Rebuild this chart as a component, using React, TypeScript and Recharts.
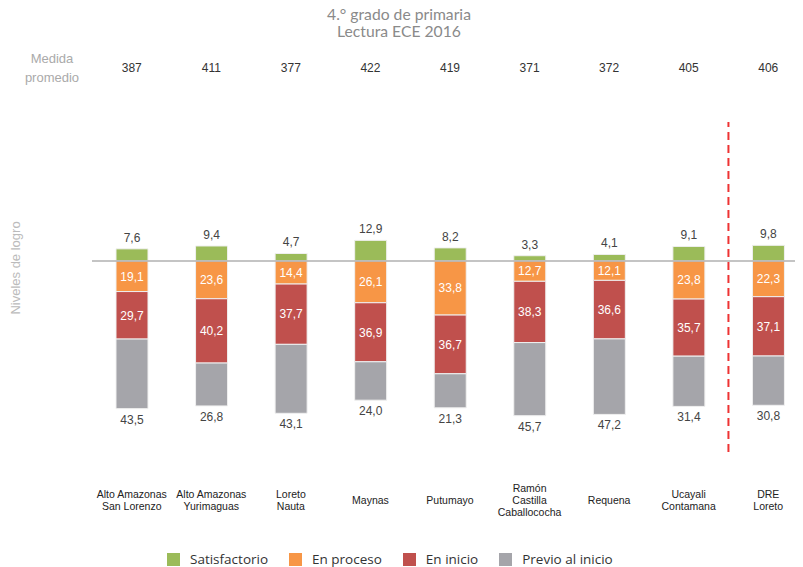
import React from "react";
import {
  BarChart,
  Bar,
  XAxis,
  YAxis,
  ReferenceLine,
  LabelList,
} from "recharts";

const regions = [
  "Alto Amazonas\nSan Lorenzo",
  "Alto Amazonas\nYurimaguas",
  "Loreto\nNauta",
  "Maynas",
  "Putumayo",
  "Ramón\nCastilla\nCaballococha",
  "Requena",
  "Ucayali\nContamana",
  "DRE\nLoreto",
];
const media = [387, 411, 377, 422, 419, 371, 372, 405, 406];
const satisfactorio = [7.6, 9.4, 4.7, 12.9, 8.2, 3.3, 4.1, 9.1, 9.8];
const enProceso = [19.1, 23.6, 14.4, 26.1, 33.8, 12.7, 12.1, 23.8, 22.3];
const enInicio = [29.7, 40.2, 37.7, 36.9, 36.7, 38.3, 36.6, 35.7, 37.1];
const previo = [43.5, 26.8, 43.1, 24.0, 21.3, 45.7, 47.2, 31.4, 30.8];

const series = [
  { key: "sat", name: "Satisfactorio", color: "#9bbb59" },
  { key: "proc", name: "En proceso", color: "#f79646" },
  { key: "ini", name: "En inicio", color: "#c0504d" },
  { key: "prev", name: "Previo al inicio", color: "#a5a5aa" },
];

// values below the line are stored negative so the stack goes down
const data = regions.map((region, i) => ({
  region,
  sat: satisfactorio[i],
  proc: -enProceso[i],
  ini: -enInicio[i],
  prev: -previo[i],
}));

const fmt = (v: any) => Math.abs(Number(v)).toFixed(1).replace(".", ",");

const TopLabel = (p: any) => {
  const top = Math.min(p.y, p.y + p.height);
  return (
    <text x={p.x + p.width / 2} y={top - 7} textAnchor="middle" fill="#444" fontSize={12}>
      {fmt(p.value)}
    </text>
  );
};

const BottomLabel = (p: any) => {
  const bottom = Math.max(p.y, p.y + p.height);
  return (
    <text x={p.x + p.width / 2} y={bottom + 15} textAnchor="middle" fill="#444" fontSize={12}>
      {fmt(p.value)}
    </text>
  );
};

const RegionTick = (p: any) => {
  const lines = String(p.payload.value).split("\n");
  const cy = p.y + 46;
  const start = cy - ((lines.length - 1) * 12) / 2;
  return (
    <text x={p.x} textAnchor="middle" fill="#222" fontSize={10.5}>
      {lines.map((l, i) => (
        <tspan key={i} x={p.x} y={start + i * 12} dy="0.35em">
          {l}
        </tspan>
      ))}
    </text>
  );
};

const MediaTick = (p: any) => (
  <text x={p.x} y={p.y - 52} dy="0.35em" textAnchor="middle" fill="#333" fontSize={12}>
    {media[p.payload.index]}
  </text>
);

export default function App() {
  return (
    <div style={{ position: "relative", width: 795, height: 559, fontFamily: "'Liberation Sans', Arial, sans-serif" }}>
      <div
        style={{
          position: "absolute",
          top: -2,
          left: 0,
          width: 782,
          textAlign: "center",
          fontFamily: "Lato, sans-serif",
          fontSize: 15.7,
          lineHeight: "17px",
          color: "#8a8a8a",
        }}
      >
        4.° grado de primaria
        <br />
        Lectura ECE 2016
      </div>
      <div
        style={{
          position: "absolute",
          top: 41,
          left: 4,
          width: 80,
          textAlign: "center",
          fontSize: 13,
          lineHeight: "19px",
          color: "#aaa",
        }}
      >
        Medida
        <br />
        promedio
      </div>
      <div
        style={{
          position: "absolute",
          left: 7,
          top: 260,
          transform: "translate(-50%, -50%) rotate(-90deg)",
          whiteSpace: "nowrap",
          fontSize: 13,
          color: "#bbb",
        }}
      >
        Niveles de logro
      </div>
      <div
        style={{
          position: "absolute",
          left: 159,
          top: 542,
          display: "flex",
          fontFamily: "'Open Sans', sans-serif",
          fontSize: 13.5,
          lineHeight: "18px",
          color: "#333",
        }}
      >
        {series.map((s) => (
          <div key={s.key} style={{ display: "flex", alignItems: "center", marginRight: 21 }}>
            <span style={{ width: 13, height: 13, background: s.color, marginRight: 10 }} />
            {s.name}
          </div>
        ))}
      </div>
      <BarChart
        width={795}
        height={559}
        data={data}
        stackOffset="sign"
        barSize={32}
        margin={{ top: 84, right: -5, bottom: 55, left: 84 }}
      >
        <XAxis
          xAxisId="top"
          orientation="top"
          dataKey="region"
          height={30}
          axisLine={false}
          tickLine={false}
          tickSize={0}
          tick={<MediaTick />}
          interval={0}
        />
        <XAxis
          dataKey="region"
          height={60}
          axisLine={false}
          tickLine={false}
          tickSize={0}
          tick={<RegionTick />}
          interval={0}
        />
        <YAxis hide domain={[-119.4, 86.9]} allowDataOverflow />
        <ReferenceLine y={0} stroke="#b0b0b0" strokeWidth={1.5} />
        <ReferenceLine
          x={"DRE\nLoreto"}
          position="start"
          stroke="#ee3333"
          strokeWidth={2}
          strokeDasharray="8 5"
        />
        <Bar dataKey="sat" name="Satisfactorio" stackId="a" fill="#9bbb59" stroke="#f0f0f0" isAnimationActive={false}>
          <LabelList dataKey="sat" content={<TopLabel />} />
        </Bar>
        <Bar dataKey="proc" name="En proceso" stackId="a" fill="#f79646" stroke="#f0f0f0" isAnimationActive={false}>
          <LabelList dataKey="proc" position="center" fill="#fff" fontSize={12} formatter={fmt} />
        </Bar>
        <Bar dataKey="ini" name="En inicio" stackId="a" fill="#c0504d" stroke="#f0f0f0" isAnimationActive={false}>
          <LabelList dataKey="ini" position="center" fill="#fff" fontSize={12} formatter={fmt} />
        </Bar>
        <Bar dataKey="prev" name="Previo al inicio" stackId="a" fill="#a5a5aa" stroke="#f0f0f0" isAnimationActive={false}>
          <LabelList dataKey="prev" content={<BottomLabel />} />
        </Bar>
      </BarChart>
    </div>
  );
}
